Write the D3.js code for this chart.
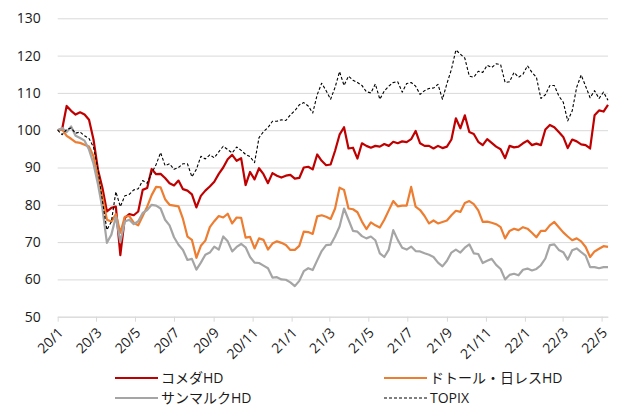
<!DOCTYPE html>
<html>
<head>
<meta charset="utf-8">
<script src="https://cdn.jsdelivr.net/npm/d3@7"></script>
<style>
  body { margin: 0; background: #fff; }
  svg { display: block; font-family: "Open Sans", "Noto Sans CJK JP", sans-serif; }
</style>
</head>
<body>
<svg id="chart" width="617" height="407"></svg>
<script>
// weekly closes, rebased to 100 at the start of Jan 2020
const startDate = new Date(2020, 0, 1);
const endDate = new Date(2022, 4, 11);

const komeda = [100,100.3,106.5,105.2,104.2,104.8,104.2,102.8,97.5,89.4,
  84.5,78.2,79.2,79.5,66.5,76.5,77.5,77.2,78.2,84,
  84.5,89.6,88.2,88.3,87.2,85.8,85.2,86.5,84.2,83.8,
  82.8,79.3,82.4,83.8,84.9,86.2,88.3,90,92.2,93.4,
  91.8,92.5,85.3,88.8,86.8,89.8,88.2,85.8,88.5,87.8,
  87.3,87.8,88,87,87.2,90,90.2,89.5,93.5,91.8,
  90.6,90.8,94.5,98.8,100.8,95.1,95.3,92.4,96.5,95.8,
  95.3,95.8,95.6,96.3,95.8,96.9,96.5,97,96.8,97.6,
  99.8,96.5,95.8,95.8,95.1,95.8,95.2,95.6,97.5,103.2,
  100.5,104,99.5,99,96.9,96,97.6,96.6,95.6,94.9,
  92.5,95.8,95.4,95.6,96.5,97.2,96,96.4,96,100.2,
  101.4,100.8,99.5,98.2,95.2,97.5,97,96.2,96,95.1,
  104,105.3,105,106.8];

const doutor = [100,100.2,98.5,97.7,96.8,96.6,96.1,95.6,93,87.5,
  82,76,75.5,77.5,72.5,76.8,77,75.2,74.5,77,
  79.5,82.6,84.8,84.7,81.5,80,79.8,79.6,76.2,71.5,
  70.6,65.8,69,70.4,74,75.6,77,76.6,77.6,75,
  76.6,76.5,71.2,71.4,68.3,71,70.6,68,69.6,70.2,
  69.8,69.2,67.9,67.9,69,72.8,72.7,72.2,76.9,77.2,
  76.8,76.2,79,84.6,84,79,78.8,78,75.5,73.5,
  75.3,74.5,73.9,76,78.5,81,79.6,79.8,79.8,84.8,
  79.5,78.6,77,75,75.8,75,75.4,75.8,77.2,78.4,
  78.1,80.5,81,80.2,78.5,75.4,75.5,75.2,74.8,74,
  71,73,73.6,73.2,74,73.6,72.5,71.3,73,73,
  74.5,75.4,74,72.6,71.5,70.5,71,70.2,68.7,66,
  67.5,68.2,68.9,68.7];

const stmarc = [100,100.6,99.5,101,98.5,97.9,97.2,94.8,91,85.5,
  79,69.8,72,76.8,70,75.5,76,74.8,75.6,77.8,
  78.6,80,79.8,79,76,74.5,71.3,69.3,67.9,65.2,
  65.5,62.6,64.5,66.6,67.2,68.8,68,71.5,70.2,67.5,
  68.7,69.5,68.6,66,64.5,64.4,63.7,63,60.5,60.6,
  60,59.9,59.2,58.2,59.6,62.2,63,62.5,65.1,67.6,
  69.2,69.3,71.5,74.2,79,76,73,72.8,71.6,71,
  71.5,70.5,67,66,68,73.2,70.6,68.5,68,68.8,
  67.6,67.5,67,66.6,66,64.5,63.5,65,67.2,68,
  67.2,68.5,69.4,67,66.8,64.4,65,65.5,63.9,62.8,
  60,61.2,61.5,61.1,62.6,62.9,62.4,62.8,63.8,65.6,
  69.2,69.4,67.9,67.3,65.3,67.8,68.3,67.3,66.4,63.3,
  63.3,63,63.3,63.3];

const topix = [100,98.8,100.2,100.6,99.2,99.5,98.5,97.8,95.5,89.5,
  81,73.3,75.5,83.5,79.5,82.4,82.8,84,84.3,86.5,
  85.8,88.5,90.8,94,90.5,91,89.5,90,91,91,
  87.5,89.5,93,92.3,93.4,92.6,94.2,95.7,94.8,93.9,
  95.5,94.6,93.5,92.9,91.3,98,99.6,100.7,102.4,102.4,
  102.8,102.6,104.1,105.2,106.8,107.4,106.5,104.6,109.5,112.6,
  110.6,108.3,111.5,115.7,112,114.5,113.4,112.8,112,110.3,
  110,112.4,108.3,110.5,111.8,112.8,113,110.2,112.5,112.8,
  111.8,109.6,110.6,111.2,111.3,112.3,108.3,112.5,116.3,121.5,
  120.4,119.3,114.5,114.2,115.8,115.5,117.4,116.8,117.8,117.6,
  112.8,113,115.5,114.2,115,117.3,115.5,114.2,108.5,109.5,
  112,112,109.2,107.5,102.5,105.2,111.5,114.8,111.8,108.7,
  110.6,108.5,110.2,108];

const yTicks = [50, 60, 70, 80, 90, 100, 110, 120, 130];

const series = [
  { name: 'コメダHD', values: komeda, color: '#C00000', width: 2.2, dash: null },
  { name: 'ドトール・日レスHD', values: doutor, color: '#ED7D31', width: 2.2, dash: null },
  { name: 'サンマルクHD', values: stmarc, color: '#A5A5A5', width: 2.2, dash: null },
  { name: 'TOPIX', values: topix, color: '#000000', width: 1.1, dash: '3,2' }
];

const dates = komeda.map((_, i) => d3.timeDay.offset(startDate, 7 * i));

const svg = d3.select('#chart');
const left = 57.7, right = 608;

const x = d3.scaleTime().domain([startDate, endDate]).range([left, right]);
const y = d3.scaleLinear().domain([50, 130]).range([316.7, 18.3]);

// gridlines + y labels
const yAxis = svg.append('g')
  .attr('transform', `translate(${left},0)`)
  .call(d3.axisLeft(y).tickValues(yTicks).tickSize(-(right - left)).tickPadding(17));
yAxis.select('.domain').remove();
yAxis.selectAll('line').attr('stroke', '#D9D9D9').attr('stroke-width', 1);
yAxis.selectAll('text')
  .attr('font-size', 14)
  .attr('fill', '#1a1a1a')
  .attr('font-family', '"Open Sans", sans-serif');

// x axis with 2-month ticks
const xTicks = d3.timeMonth.every(2).range(startDate, endDate);
const xAxis = svg.append('g')
  .attr('transform', `translate(0,${y(50)})`)
  .call(d3.axisBottom(x).tickValues(xTicks).tickSize(5).tickSizeOuter(0).tickFormat(d3.timeFormat('%y/%-m')));
xAxis.select('.domain').attr('stroke', '#D9D9D9');
xAxis.selectAll('line').attr('stroke', '#D9D9D9');
xAxis.selectAll('text')
  .attr('font-size', 14)
  .attr('fill', '#1a1a1a')
  .attr('font-family', '"Open Sans", sans-serif')
  .attr('text-anchor', 'end')
  .attr('x', 0).attr('y', 0).attr('dy', null)
  .attr('transform', 'translate(6,17) rotate(-45)');

// series lines
const line = d3.line()
  .x((d, i) => x(dates[i]))
  .y(d => y(d));

svg.append('g')
  .selectAll('path')
  .data(series)
  .join('path')
  .attr('fill', 'none')
  .attr('stroke', d => d.color)
  .attr('stroke-width', d => d.width)
  .attr('stroke-linejoin', 'round')
  .attr('stroke-dasharray', d => d.dash)
  .attr('d', d => line(d.values));

// legend, two columns
const legendPos = [
  { lx: 115, ly: 378 },
  { lx: 384, ly: 378 },
  { lx: 115, ly: 398 },
  { lx: 384, ly: 398 }
];
const legend = svg.append('g')
  .selectAll('g')
  .data(series)
  .join('g')
  .attr('transform', (d, i) => `translate(${legendPos[i].lx},${legendPos[i].ly})`);

legend.append('line')
  .attr('x1', 0).attr('x2', 43)
  .attr('stroke', d => d.color)
  .attr('stroke-width', d => d.dash ? 1 : 2.2)
  .attr('stroke-dasharray', d => d.dash);

legend.append('text')
  .attr('x', 46)
  .attr('dy', '0.34em')
  .attr('font-size', 14)
  .attr('fill', '#1a1a1a')
  .text(d => d.name);
</script>
</body>
</html>
